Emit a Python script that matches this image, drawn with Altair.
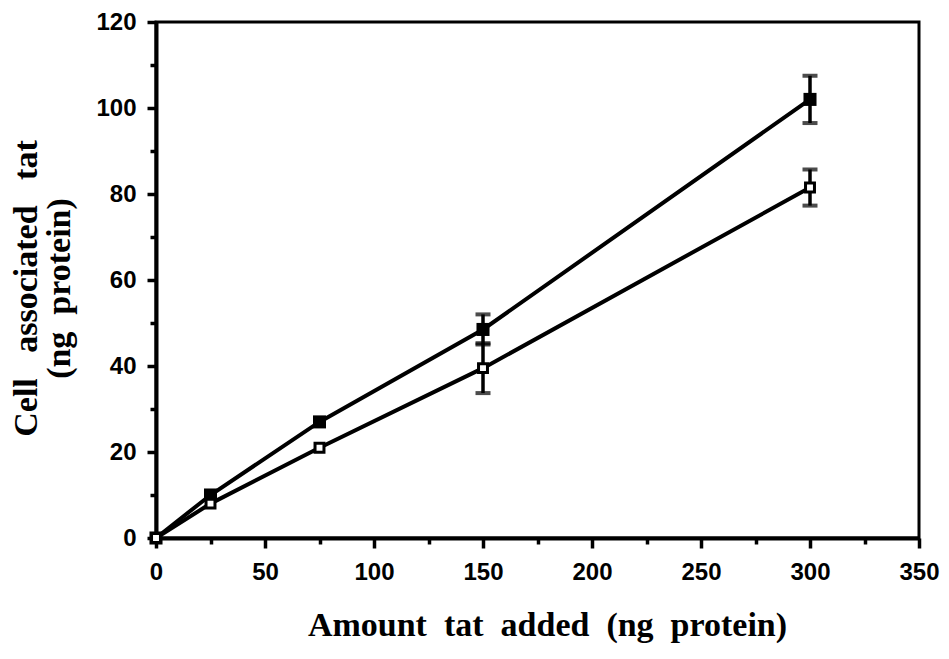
import altair as alt
import pandas as pd

# Amount of tat added (ng protein)
amount = [0, 25, 75, 150, 300]
# Cell associated tat (ng protein), two conditions, with error half-widths
filled_vals = [0, 10, 27, 48.5, 102]
filled_err = [0, 0, 0, 3.5, 5.5]
open_vals = [0, 8, 21, 39.5, 81.5]
open_err = [0, 0, 0, 5.8, 4.2]

x_major = [0, 50, 100, 150, 200, 250, 300, 350]
x_minor = [25, 75, 125, 175, 225, 275, 325]
y_major = [0, 20, 40, 60, 80, 100, 120]
y_minor = [10, 30, 50, 70, 90, 110]

NB = "\u00a0"
x_title = f"Amount{NB} tat{NB} added{NB} (ng{NB} protein)"
y_title = [f"Cell{NB}{NB} associated{NB}{NB} tat", f"(ng{NB} protein)"]

rows = []
for series, vals, errs in (("filled", filled_vals, filled_err), ("open", open_vals, open_err)):
    for a, v, e in zip(amount, vals, errs):
        rows.append({"amount": a, "value": v, "lo": v - e, "hi": v + e, "series": series})
df = pd.DataFrame(rows)
err_df = df[df["hi"] > df["lo"]]

x_scale = alt.Scale(domain=[0, 350], nice=False)
y_scale = alt.Scale(domain=[0, 120], nice=False)

# Major axes: labelled ticks plus titles
x_major_axis = alt.Axis(
    values=x_major,
    tickSize=10,
    title=x_title,
    titleX=391,
    titleY=70,
    titleBaseline="top",
    labelPadding=12,
)
y_major_axis = alt.Axis(
    values=y_major,
    tickSize=9,
    title=y_title,
    titleX=-113,
    titleY=266,
    titleAngle=-90,
    titleBaseline="bottom",
    titleLineHeight=33,
    labelPadding=11,
)
# Minor axes: shorter unlabelled ticks between the major ones
x_minor_axis = alt.Axis(values=x_minor, tickSize=6, labels=False, title=None, domain=False, orient="bottom")
y_minor_axis = alt.Axis(values=y_minor, tickSize=6, labels=False, title=None, domain=False, orient="left")

lines = alt.Chart(df).mark_line(color="black", strokeWidth=4).encode(
    x=alt.X("amount:Q", scale=x_scale, axis=x_major_axis),
    y=alt.Y("value:Q", scale=y_scale, axis=y_major_axis),
    detail="series:N",
)

err_rules = alt.Chart(err_df).mark_rule(color="black", strokeWidth=3.5).encode(
    x=alt.X("amount:Q", scale=x_scale, axis=x_minor_axis),
    y=alt.Y("lo:Q", scale=y_scale, axis=y_minor_axis),
    y2="hi:Q",
)
err_caps_hi = alt.Chart(err_df).mark_tick(
    color="black", orient="horizontal", size=15, thickness=4
).encode(x=alt.X("amount:Q", axis=None), y=alt.Y("hi:Q", axis=None))
err_caps_lo = alt.Chart(err_df).mark_tick(
    color="black", orient="horizontal", size=15, thickness=4
).encode(x=alt.X("amount:Q", axis=None), y=alt.Y("lo:Q", axis=None))

filled_pts = alt.Chart(df[df["series"] == "filled"]).mark_square(
    size=170, color="black", filled=True, opacity=1
).encode(x=alt.X("amount:Q", axis=None), y=alt.Y("value:Q", axis=None))

open_pts = alt.Chart(df[df["series"] == "open"]).mark_square(
    size=80, fill="white", stroke="black", strokeWidth=3, filled=True, opacity=1
).encode(x=alt.X("amount:Q", axis=None), y=alt.Y("value:Q", axis=None))

chart = (
    alt.layer(lines, err_rules, err_caps_hi, err_caps_lo, filled_pts, open_pts)
    .resolve_scale(x="shared", y="shared")
    .resolve_axis(x="independent", y="independent")
    .properties(
        width=763,
        height=516,
        autosize=alt.AutoSizeParams(type="none"),
        padding={"left": 156, "top": 22, "right": 30, "bottom": 121},
        background="white",
    )
    .configure_view(stroke="black", strokeWidth=3)
    .configure_axis(
        domainColor="black",
        domainWidth=4,
        tickColor="black",
        tickWidth=3.5,
        grid=False,
        labelFlush=False,
        labelFont="Liberation Sans",
        labelFontWeight="bold",
        labelFontSize=24,
        labelColor="black",
        titleFont="Liberation Serif",
        titleFontWeight="bold",
        titleFontSize=34,
        titleColor="black",
    )
)

chart.save("out.html", embed_options={"renderer": "svg", "actions": False})
